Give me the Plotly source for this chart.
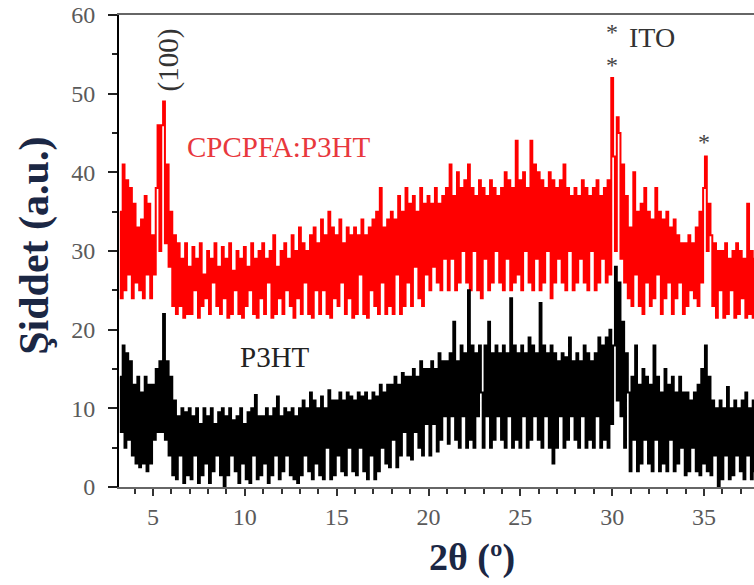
import numpy as np
import plotly.graph_objects as go

# 2theta grid: start 3.2 deg, step 0.1 deg
theta_start = 3.2
theta_step = 0.1

# CPCPFA:P3HT intensity (a.u.)
cpcpfa_p3ht = [
    35, 24, 41, 25, 39, 27, 38, 24,
    36, 26, 33, 25, 34, 24, 37, 27, 36, 24,
    32, 27, 38, 46, 30, 46, 49, 31, 41, 28,
    35, 23, 32, 22, 31, 23, 29, 21.5, 31, 22,
    28, 22, 30.5, 25, 29, 21.5, 31, 23, 27, 24,
    30, 22, 29, 26, 31, 23, 28, 22, 30.5, 24,
    29, 21.5, 31, 22, 27.5, 25, 30, 22, 29, 21.5,
    30.5, 23, 28, 25, 31, 22, 29, 21.5, 30, 24,
    31, 22, 29, 26, 30, 21.5, 32, 22, 28, 24,
    30, 22, 31, 25, 29, 23, 32, 21.5, 30, 24,
    33, 22, 31, 26, 30, 22, 32, 21.5, 33, 25,
    31, 22, 34, 25, 32, 22, 35, 21.5, 33, 24,
    32, 23, 34, 26, 31, 22, 33, 24, 32, 21.5,
    33, 22, 32, 27, 34, 22, 32, 21.5, 33, 25,
    34, 23, 35, 22, 38, 26, 33, 22, 34, 23,
    35, 22, 34, 27, 37, 22, 35, 23, 38, 26,
    36, 23, 37, 28, 35, 24, 38, 23, 36, 27,
    37, 25, 36, 28, 38, 26, 36, 25, 37, 29,
    38, 25, 41, 29, 37, 25, 40, 26, 38, 30,
    39, 26, 41, 25, 38, 30, 37, 25, 39, 24,
    38, 29, 37, 25, 39, 26, 38, 30, 37, 26,
    38, 25, 40, 29, 39, 25, 38, 26, 44, 27,
    39, 25, 40, 30, 38, 26, 44, 25, 41, 29,
    40, 25, 39, 26, 38, 30, 40, 24, 39, 26,
    38, 29, 39, 26, 41, 25, 38, 30, 37, 25,
    38, 26, 37, 29, 39, 26, 38, 25, 37, 30,
    38, 25, 39, 26, 37, 29, 38, 26, 39, 27,
    52, 42, 30, 47, 45, 29, 41, 26, 37, 24,
    33, 23, 40, 27, 35, 23, 36, 22, 38, 26,
    35, 23, 34, 24, 38, 27, 35, 22, 34, 24,
    35, 26, 33, 22, 34, 24, 32, 26, 31, 22,
    31, 23, 32, 25, 31, 24, 33, 23, 35, 26,
    38, 42, 30, 36, 32, 23, 31, 21.5, 30, 25,
    30, 21.5, 31, 22, 29, 25, 30, 21.5, 31, 22,
    30, 24, 29, 21.5, 36, 22, 30, 21.5, 29,
]

# P3HT intensity (a.u.)
p3ht = [
    14, 7, 18, 5, 17, 6, 16, 4,
    13, 3, 14, 2.5, 12, 3, 14, 2, 13, 3,
    13, 6, 15, 7, 16, 7, 22, 6, 16, 4,
    14, 1.5, 11, 1, 9, 4, 10, 0.5, 9.5, 1.5,
    10, 1, 9, 4, 10, 0.5, 8, 1.5, 10, 3,
    9, 0.5, 10, 2, 8, 4, 9.5, 1.5, 10, 0,
    9, 1.5, 10, 4, 8.5, 2, 9, 0.5, 10, 3,
    8, 1, 9.5, 0.5, 10, 4, 11.7, 1, 9, 1.5,
    9, 3, 10, 0.5, 9, 1.5, 10, 4, 11.5, 1,
    9, 2, 10, 4, 9.5, 1.5, 10, 1, 9, 0.5,
    10, 1.5, 11, 4, 10, 2, 12, 1, 11, 3,
    10, 1.5, 11.5, 1, 10, 5, 12.3, 1, 11, 1.5,
    11, 4, 12, 2, 11, 1.5, 12, 5, 11.5, 2,
    11, 1.5, 12, 5, 11.5, 2, 12, 1, 11, 4,
    12, 1, 11.5, 2, 13, 5, 12, 3, 13, 2.5,
    13, 6, 14, 2.5, 13, 4, 14.5, 7, 14, 4,
    14, 3.5, 15, 7, 14, 5, 16, 4, 15, 8,
    15, 4, 16, 8, 15, 4.5, 17, 6, 16, 9,
    16, 5.5, 17, 9, 21, 6, 16, 5, 18, 9,
    17, 5, 25, 6, 18, 5, 17, 9, 18, 12,
    5, 18, 9, 21, 5, 17, 6, 18, 9, 17,
    6, 18, 5, 17, 9, 24, 5, 18, 6, 17,
    5, 18, 9, 17, 5, 19, 6, 18, 9, 17,
    6, 23.4, 5, 18, 9, 17, 5, 18, 3, 17,
    5, 16, 9, 17, 5, 16.5, 6, 19, 9, 16,
    6, 17, 5, 16, 9, 18, 5, 17, 6, 16,
    5, 17, 9, 19, 5, 18, 6, 19, 5, 20,
    8, 18, 28, 11, 26, 9, 21, 5, 17, 12,
    2, 14, 6, 18, 2, 13, 3, 15, 6, 14,
    3, 13, 2, 18, 6, 14, 2, 12, 3, 15,
    2, 13, 6, 14, 2, 12, 3, 14, 5, 12,
    1.5, 12, 2, 11, 5, 12, 2, 13, 1.5, 15,
    3, 18, 2, 14, 1.5, 11, 4, 10, 0, 11,
    1, 10, 4, 12.7, 1, 10, 1.5, 11, 4, 10,
    2, 11, 1, 12, 4, 10, 1, 11, 2,
]

x_red = np.round(theta_start + theta_step * np.arange(len(cpcpfa_p3ht)), 2)
x_blk = np.round(theta_start + theta_step * np.arange(len(p3ht)), 2)

x_ticks = [5, 10, 15, 20, 25, 30, 35]
y_ticks = [0, 10, 20, 30, 40, 50, 60]

serif = "Liberation Serif, Times New Roman, Times, serif"

fig = go.Figure()
fig.add_trace(go.Scatter(x=x_red, y=cpcpfa_p3ht, mode="lines",
                         line=dict(color="#ff0000", width=2, shape="hvh"),
                         name="CPCPFA:P3HT"))
fig.add_trace(go.Scatter(x=x_blk, y=p3ht, mode="lines",
                         line=dict(color="#000000", width=2, shape="hvh"),
                         name="P3HT"))

tick_font = dict(family=serif, size=24, color="#5a5a5a")

fig.update_layout(
    width=754, height=585,
    margin=dict(l=119, r=0, t=15, b=98),
    plot_bgcolor="white", paper_bgcolor="white",
    showlegend=False,
    xaxis=dict(range=[3.15, 37.72], tickvals=x_ticks, ticks="outside", ticklen=7,
               tickwidth=1.5, tickcolor="#333", showline=True, linecolor="#666",
               linewidth=2, mirror=True, showgrid=False, zeroline=False,
               tickfont=tick_font, ticklabelstandoff=0,
               minor=dict(dtick=1, tick0=0, ticks="outside", ticklen=5,
                          tickcolor="#333", tickwidth=1.5)),
    yaxis=dict(range=[0, 60], tickvals=y_ticks, ticks="outside", ticklen=9,
               tickwidth=1.5, tickcolor="#222", showline=True, linecolor="#000",
               linewidth=2, showgrid=False, zeroline=False,
               tickfont=tick_font, ticklabelstandoff=8,
               minor=dict(dtick=5, tick0=0, ticks="outside", ticklen=5,
                          tickcolor="#222", tickwidth=1.5)),
)

anns = [
    dict(text="(100)", x=5.85, y=54.3, textangle=-90,
         font=dict(family=serif, size=29, color="#333")),
    dict(text="CPCPFA:P3HT", x=11.86, y=43.2,
         font=dict(family=serif, size=29, color="#e8383d")),
    dict(text="P3HT", x=11.64, y=16.5,
         font=dict(family=serif, size=29, color="#222")),
    dict(text="ITO", x=32.17, y=57.2,
         font=dict(family=serif, size=28, color="#333")),
    dict(text="*", x=29.99, y=57.8,
         font=dict(family=serif, size=24, color="#444")),
    dict(text="*", x=29.99, y=53.7,
         font=dict(family=serif, size=24, color="#444")),
    dict(text="*", x=35.0, y=43.9,
         font=dict(family=serif, size=24, color="#444")),
]
for a in anns:
    fig.add_annotation(xref="x", yref="y", showarrow=False,
                       xanchor="center", yanchor="middle", **a)

fig.add_annotation(xref="paper", yref="paper", x=-0.1323, y=0.511,
                   xanchor="center", yanchor="middle",
                   text="<b>Şiddet (a.u.)</b>", textangle=-90, showarrow=False,
                   font=dict(family=serif, size=42, color="#1b2744"))
fig.add_annotation(xref="paper", yref="paper", x=0.556, y=-0.150,
                   xanchor="center", yanchor="middle",
                   text="<b>2θ (º)</b>", showarrow=False,
                   font=dict(family=serif, size=38, color="#1b2744"))

fig.write_html("out.html")
